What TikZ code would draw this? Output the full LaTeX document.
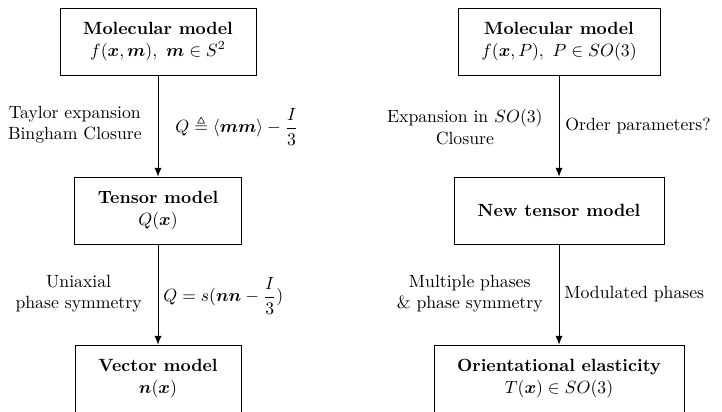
\documentclass[tikz,border=0pt]{standalone}
\usepackage{amsmath,amssymb,bm}
\usetikzlibrary{arrows.meta}
\begin{document}
\begin{tikzpicture}[x=0.565pt,y=-0.565pt,
  box/.style={draw, align=center, minimum height={67*0.565pt}, inner sep=0pt},
  arr/.style={-{Latex[length=5pt,width=4pt]}},
  lbl/.style={align=center, inner sep=0pt}]
\useasboundingbox (0,0) rectangle (722,411);
\clip (0,0) rectangle (722,411);
% left column
\node[box, minimum width={196*0.565pt}] (m1) at (158,41.5) {\textbf{Molecular model}\\ $f(\bm{x},\bm{m}),\ \bm{m}\in S^2$};
\node[box, minimum width={167*0.565pt}] (t1) at (158,210.5) {\textbf{Tensor model}\\ $Q(\bm{x})$};
\node[box, minimum width={166*0.565pt}] (v1) at (158,378.5) {\textbf{Vector model}\\ $\bm{n}(\bm{x})$};
% right column
\node[box, minimum width={202*0.565pt}] (m2) at (559,41.5) {\textbf{Molecular model}\\ $f(\bm{x},P),\ P\in SO(3)$};
\node[box, minimum width={210*0.565pt}] (n2) at (559,210.5) {\textbf{New tensor model}};
\node[box, minimum width={250*0.565pt}] (o2) at (559,378.5) {\textbf{Orientational elasticity}\\ $T(\bm{x})\in SO(3)$};
% arrows
\draw[arr] (m1) -- (t1);
\draw[arr] (t1) -- (v1);
\draw[arr] (m2) -- (n2);
\draw[arr] (n2) -- (o2);
% labels
\node[lbl, anchor=east] (l1) at (142,125) {Taylor expansion\\Bingham Closure};
\node[lbl, anchor=west] (r1) at (175,127) {$Q \triangleq \langle \bm{m}\bm{m}\rangle - \dfrac{I}{3}$};
\node[lbl, anchor=east] (l2) at (142,294) {Uniaxial\\phase symmetry};
\node[lbl, anchor=west] (r2) at (163,296) {$Q = s(\bm{n}\bm{n} - \dfrac{I}{3})$};
\node[lbl, anchor=east] (l3) at (543,127) {Expansion in $SO(3)$\\Closure};
\node[lbl, anchor=west] (r3) at (565,126) {Order parameters?};
\node[lbl, anchor=east] (l4) at (543,294) {Multiple phases\\\& phase symmetry};
\node[lbl, anchor=west] (r4) at (564,294) {Modulated phases};
\end{tikzpicture}
\end{document}
